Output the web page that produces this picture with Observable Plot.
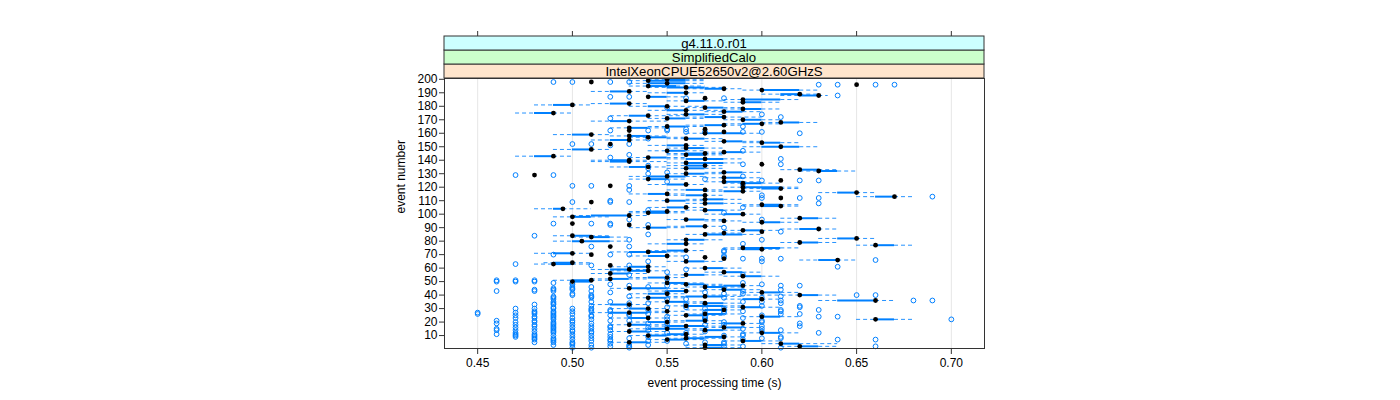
<!DOCTYPE html>
<html><head><meta charset="utf-8">
<script src="https://cdn.jsdelivr.net/npm/d3@7"></script>
<script src="https://cdn.jsdelivr.net/npm/@observablehq/plot@0.6"></script>
<style>body{margin:0;background:#fff}</style>
</head><body><div id="chart"></div>
<script>
const stripLabels = ["IntelXeonCPUE52650v2@2.60GHzS", "SimplifiedCalo", "g4.11.0.r01"]; // inner → outer
const stripColors = ["#ffe5cc", "#ccffcc", "#ccffff"];
const xTicks = [0.45, 0.50, 0.55, 0.60, 0.65, 0.70];
const yTicks = [10, 20, 30, 40, 50, 60, 70, 80, 90, 100, 110, 120, 130, 140, 150, 160, 170, 180, 190, 200];
const xTitle = "event processing time (s)";
const yTitle = "event number";

// per event 1..200
const median = [
.57,.62,.57,.61,.53,.59,.55,.56,.58,.54, .56,.60,.53,.57,.55,.58,.56,.53,.59,.55,
.57,.66,.54,.60,.56,.57,.53,.55,.58,.54, .59,.56,.53,.57,.55,.66,.60,.54,.57,.62,
.55,.60,.56,.58,.53,.57,.59,.56,.55,.50, .51,.52,.55,.59,.56,.52,.58,.54,.53,.57,
.54,.52,.49,.50,.56,.64,.58,.57,.55,.51, .50,.54,.56,.60,.59,.52,.66,.56,.62,.505,
.56,.65,.51,.50,.57,.58,.60,.59,.63,.54, .57,.53,.50,.60,.58,.56,.62,.50,.53,.59,
.54,.55,.57,.495,.56,.61,.60,.57,.51,.55, .57,.61,.67,.57,.55,.65,.59,.57,.61,.59,
.52,.56,.59,.58,.61,.54,.58,.55,.48,.56, .58,.63,.62,.56,.54,.57,.60,.56,.53,.53,
.57,.54,.49,.56,.57,.58,.55,.51,.56,.61, .56,.52,.60,.58,.53,.56,.54,.53,.51,.57,
.58,.53,.57,.53,.55,.58,.60,.61,.53,.59, .55,.58,.54,.56,.49,.58,.56,.59,.57,.55,
.50,.53,.59,.56,.59,.57,.54,.63,.62,.56, .53,.60,.58,.56,.54,.65,.55,.51,.54,.55];
const q1 = [
.57,.62,.57,.61,.53,.59,.55,.56,.57,.54, .55,.60,.53,.57,.54,.58,.55,.53,.58,.54,
.56,.66,.53,.60,.56,.57,.52,.55,.57,.53, .59,.56,.52,.57,.55,.64,.59,.54,.56,.62,
.54,.60,.55,.58,.53,.57,.58,.56,.55,.50, .50,.52,.54,.59,.56,.52,.58,.53,.52,.57,
.53,.52,.49,.49,.56,.63,.58,.57,.54,.51, .49,.53,.55,.59,.59,.52,.66,.55,.62,.50,
.56,.64,.51,.50,.57,.58,.60,.59,.62,.54, .56,.53,.50,.60,.58,.56,.62,.50,.51,.58,
.54,.54,.57,.49,.55,.60,.60,.57,.51,.55, .57,.61,.66,.56,.54,.64,.58,.56,.60,.59,
.52,.55,.59,.58,.61,.54,.58,.54,.48,.56, .58,.63,.62,.56,.53,.56,.60,.56,.52,.52,
.56,.54,.48,.56,.56,.58,.55,.50,.56,.60, .55,.52,.60,.58,.52,.56,.54,.53,.50,.57,
.58,.53,.57,.53,.55,.57,.59,.61,.52,.59, .55,.57,.53,.56,.48,.58,.55,.59,.57,.54,
.49,.52,.59,.56,.59,.57,.54,.62,.61,.55, .52,.60,.57,.55,.54,.65,.54,.51,.54,.55];
const q3 = [
.58,.63,.58,.62,.54,.60,.56,.57,.58,.55, .56,.61,.54,.58,.56,.59,.57,.54,.59,.55,
.57,.67,.54,.61,.57,.58,.54,.55,.58,.54, .60,.58,.53,.58,.56,.66,.60,.55,.58,.63,
.55,.61,.56,.59,.55,.58,.59,.57,.56,.51, .51,.53,.55,.60,.57,.53,.59,.54,.53,.58,
.54,.52,.50,.50,.57,.64,.58,.57,.55,.51, .50,.55,.56,.60,.61,.52,.67,.56,.63,.52,
.57,.65,.52,.51,.59,.58,.60,.60,.63,.55, .57,.53,.50,.61,.58,.57,.63,.51,.53,.59,
.55,.55,.58,.495,.56,.61,.61,.58,.51,.56, .58,.61,.67,.57,.55,.65,.59,.57,.61,.61,
.52,.56,.60,.59,.61,.55,.59,.56,.48,.57, .59,.64,.63,.57,.54,.57,.60,.58,.53,.53,
.58,.55,.49,.57,.57,.59,.56,.51,.57,.62, .56,.52,.61,.59,.53,.57,.55,.54,.51,.59,
.58,.53,.57,.54,.56,.58,.60,.62,.53,.60, .56,.58,.54,.57,.49,.59,.56,.60,.58,.55,
.50,.53,.60,.57,.61,.57,.55,.63,.62,.56, .53,.62,.58,.57,.555,.65,.56,.51,.56,.56];
const whiskerLow = [
.56,.61,.56,.60,.52,.58,.54,.55,.56,.53, .54,.59,.52,.56,.53,.57,.54,.52,.57,.53,
.55,.65,.52,.59,.55,.56,.51,.54,.56,.52, .58,.55,.51,.56,.54,.63,.58,.53,.55,.57,
.53,.59,.54,.57,.52,.56,.57,.55,.54,.50, .49,.51,.53,.58,.55,.51,.57,.52,.51,.56,
.52,.52,.48,.485,.55,.62,.58,.57,.53,.51, .48,.52,.54,.58,.58,.52,.65,.54,.61,.49,
.55,.63,.50,.49,.56,.57,.60,.58,.61,.53, .55,.53,.50,.59,.57,.55,.61,.49,.50,.57,
.53,.53,.56,.48,.54,.59,.59,.56,.51,.54, .56,.61,.65,.55,.53,.63,.57,.55,.59,.58,
.52,.54,.58,.57,.61,.53,.57,.53,.48,.55, .57,.62,.61,.55,.52,.55,.60,.55,.51,.51,
.55,.53,.47,.55,.55,.57,.54,.49,.55,.59, .54,.52,.59,.57,.51,.55,.53,.52,.49,.56,
.58,.53,.57,.52,.54,.56,.58,.60,.51,.58, .54,.56,.52,.55,.47,.57,.54,.58,.56,.53,
.48,.51,.58,.55,.58,.57,.54,.61,.60,.54, .51,.59,.56,.54,.53,.65,.53,.51,.53,.54];
const whiskerHigh = [
.59,.64,.59,.64,.55,.61,.57,.58,.59,.56, .57,.62,.55,.59,.57,.60,.58,.55,.60,.56,
.58,.68,.55,.62,.58,.59,.55,.56,.59,.55, .61,.59,.54,.59,.57,.67,.61,.56,.59,.64,
.56,.62,.57,.60,.56,.59,.60,.58,.57,.51, .52,.54,.56,.61,.58,.54,.60,.55,.54,.59,
.55,.52,.51,.51,.58,.65,.58,.57,.56,.51, .51,.56,.57,.61,.62,.52,.68,.57,.64,.53,
.58,.66,.53,.52,.60,.59,.60,.61,.64,.56, .58,.53,.50,.62,.59,.58,.64,.52,.54,.60,
.56,.56,.59,.51,.57,.62,.62,.59,.51,.57, .59,.61,.68,.58,.56,.66,.60,.58,.62,.62,
.52,.57,.61,.60,.61,.56,.60,.57,.48,.58, .60,.65,.64,.58,.55,.58,.60,.59,.55,.54,
.59,.56,.50,.58,.58,.60,.57,.52,.58,.63, .57,.52,.62,.60,.54,.58,.56,.55,.52,.60,
.58,.53,.57,.55,.57,.59,.61,.63,.55,.61, .57,.60,.56,.58,.50,.60,.58,.61,.59,.57,
.51,.54,.61,.58,.62,.57,.56,.635,.63,.57, .54,.63,.59,.58,.57,.65,.57,.51,.57,.57];
const outliers = [
[.50,.51,.53,.61],[.52,.53,.58,.59,.66],[.49,.50,.51,.53,.54],[.50,.52,.56,.58],[.48,.49,.50,.57,.58],[.49,.51,.52,.54,.55],[.48,.49,.50,.52,.59,.64,.66],[.48,.49,.51,.53,.60,.61],[.47,.48,.50,.52,.54,.61],[.47,.48,.49,.51,.58,.59],
[.46,.47,.48,.50,.52,.59],[.47,.49,.51,.55,.56,.63],[.48,.49,.50,.51,.57,.60],[.46,.47,.49,.50,.52,.54,.61],[.46,.48,.49,.51,.59,.60],[.47,.49,.50,.52,.54,.55],[.48,.49,.51,.52,.60,.62],[.47,.48,.49,.50,.57,.58],[.46,.49,.51,.54,.55,.62],[.47,.48,.49,.50,.58,.60],
[.46,.48,.50,.52,.53,.60],[.49,.51,.55,.57,.70],[.47,.48,.49,.50,.57,.59],[.48,.49,.51,.55,.57,.63,.64],[.47,.49,.51,.52,.53,.60],[.45,.48,.49,.50,.53,.54,.61,.62],[.45,.47,.48,.49,.57,.58],[.48,.49,.50,.51,.52,.58,.59,.61],[.51,.52,.54,.61,.63],[.47,.48,.49,.50,.51,.57,.58],
[.49,.55,.56,.62],[.51,.53,.60,.62],[.48,.49,.56,.57],[.49,.53,.54,.61],[.49,.51,.52,.59,.60],[.61,.68,.69],[.49,.55,.56],[.49,.51,.58,.60],[.49,.51,.53,.61],[.50,.51,.65,.66],
[.50,.58,.59],[.52,.55,.57],[.46,.48,.49,.51,.59],[.48,.49,.50,.61],[.49,.50,.58],[.50,.51,.54],[.53,.55,.61,.62],[.50,.52,.60],[.49,.50,.59],[.46,.47,.48],
[.46,.47,.48],[.55],[],[],[.53,.59],[],[.55],[],[.56],[],
[.64],[.51,.53],[.47],[],[.54,.60],[.66],[.59,.60,.61],[.56,.58],[.58],[.49,.52,.53],
[],[.58],[.58],[],[],[.51,.53],[],[.59],[],[],
[.53,.60],[],[],[.48],[.54],[],[.61],[],[],[.58],
[],[.52,.54],[.49,.51,.52],[],[],[.53,.60],[],[],[],[],
[.58],[],[.54],[],[.59],[],[],[.63],[.50,.52,.53],[.52],
[],[.60,.62,.63],[.69],[.60],[],[],[],[.53],[],[],
[.50,.51,.53],[.59],[],[.55],[.60,.62,.63],[.57],[],[.59],[.47,.49],[.54],
[.55],[],[],[.54],[],[.54],[.59,.61],[],[],[],
[.61],[.52],[],[.53],[],[],[.59],[],[],[],
[.52],[.50,.51,.53],[],[],[],[.54],[],[],[],[.62],
[.56,.57,.59,.60],[.52,.54,.55],[.55,.56],[],[.59],[],[],[],[],[],
[.52],[.61],[],[.60],[],[],[],[],[.55],[],
[],[],[],[],[],[.56,.58],[.52,.53],[.64],[],[],
[],[],[],[],[],[.63,.64,.66,.67],[],[.49,.50,.52,.53],[],[]];

const events = median.map((_, i) => i + 1);
const boxes = events.map((e, i) => ({event: e, med: median[i], q1: q1[i], q3: q3[i], lo: whiskerLow[i], hi: whiskerHigh[i]}));
const outs = events.flatMap((e, i) => outliers[i].map(t => ({event: e, t})));

const W = 1400, H = 400, ML = 444, MR = 416, MT = 78, MB = 52, STRIP = 14;
const font = "'Liberation Sans', Arial, Helvetica, sans-serif";
const blue = "#0080ff";

const svg = Plot.plot({
  width: W, height: H,
  marginLeft: ML, marginRight: MR, marginTop: MT, marginBottom: MB,
  style: {fontFamily: font, fontSize: "12px", background: "white", color: "black", overflow: "visible"},
  x: {domain: [0.4325, 0.7175], axis: null},
  y: {domain: [0.4, 200.6], axis: null},
  marks: [
    Plot.gridX(xTicks, {stroke: "#e6e6e6", strokeOpacity: 1}),
    Plot.ruleY(boxes, {y: "event", x1: "lo", x2: "q1", stroke: blue, strokeWidth: 1, strokeDasharray: "4,3", strokeOpacity: 0.85}),
    Plot.ruleY(boxes, {y: "event", x1: "q3", x2: "hi", stroke: blue, strokeWidth: 1, strokeDasharray: "4,3", strokeOpacity: 0.85}),
    Plot.ruleY(boxes, {y: "event", x1: "q1", x2: "q3", stroke: blue, strokeWidth: 2}),
    Plot.dot(outs, {x: "t", y: "event", r: 2.4, stroke: blue, strokeWidth: 1, fill: "none"}),
    Plot.dot(boxes, {x: "med", y: "event", r: 2.4, fill: "black", stroke: "none"}),
    Plot.frame({stroke: "#333"}),
    Plot.axisX(xTicks, {anchor: "bottom", tickSize: 6, tickPadding: 4, tickFormat: d3.format(".2f"), label: null, stroke: "#333"}),
    Plot.axisX(xTicks, {anchor: "top", tickSize: 6, dy: -3 * STRIP, tickFormat: () => "", label: null, stroke: "#333"}),
    Plot.axisY(yTicks, {anchor: "left", tickSize: 5, tickPadding: 2, label: null, stroke: "#333"}),
    Plot.text([xTitle], {frameAnchor: "bottom", dy: 38, fontSize: 12, fill: "black"}),
    Plot.text([yTitle], {frameAnchor: "left", rotate: -90, dx: -43, fontSize: 12, fill: "black"})
  ]
});

// strips above the panel
const g = d3.select(svg).append("g");
const pw = W - ML - MR;
stripLabels.forEach((lab, i) => {
  const y0 = MT - STRIP * (i + 1);
  g.append("rect").attr("x", ML).attr("y", y0).attr("width", pw).attr("height", STRIP)
    .attr("fill", stripColors[i]).attr("stroke", "#333").attr("stroke-width", 1);
  g.append("text").attr("x", ML + pw / 2).attr("y", y0 + STRIP / 2).attr("dy", "0.36em")
    .attr("text-anchor", "middle").attr("font-family", font).attr("font-size", 13.2).attr("fill", "black").text(lab);
});

document.getElementById("chart").appendChild(svg);
</script>
</body></html>
